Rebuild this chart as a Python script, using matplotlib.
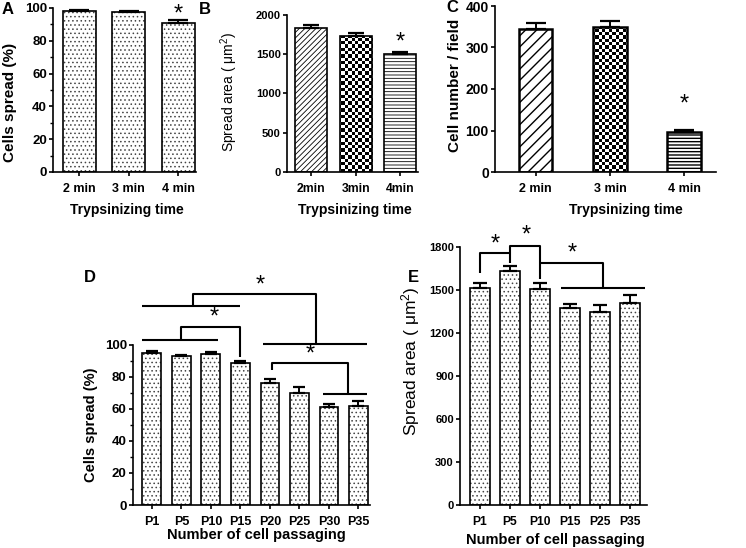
import numpy as np
import matplotlib
matplotlib.use('Agg')
import matplotlib.pyplot as plt

plt.rcParams['font.family'] = ['Liberation Sans', 'DejaVu Sans']
plt.rcParams['font.weight'] = 'bold'
plt.rcParams['axes.labelweight'] = 'bold'
plt.rcParams['hatch.color'] = 'black'

# Panels A-C: trypsinizing time
time_labels = ['2 min', '3 min', '4 min']
time_labels_b = ['2min', '3min', '4min']
spread_pct_time = [98.0, 97.5, 91.0]
spread_pct_time_err = [1.0, 0.8, 1.6]
spread_area_time = [1840, 1735, 1500]
spread_area_time_err = [35, 35, 28]
cell_number_time = [345, 350, 97]
cell_number_time_err = [14, 13, 5]

# Panel D: cells spread vs passage
passage_labels_d = ['P1', 'P5', 'P10', 'P15', 'P20', 'P25', 'P30', 'P35']
spread_pct_passage = [94.8, 93.0, 94.0, 88.4, 76.3, 69.7, 61.3, 62.0]
spread_pct_passage_err = [1.5, 0.4, 1.6, 1.6, 2.1, 4.1, 1.7, 2.7]

# Panel E: spread area vs passage
passage_labels_e = ['P1', 'P5', 'P10', 'P15', 'P25', 'P35']
spread_area_passage = [1515, 1634, 1508, 1373, 1350, 1413]
spread_area_passage_err = [33, 33, 40, 31, 47, 56]

# significance brackets (x in category units, y in data units)
brackets_d = [
    ([-0.35, 2.25], [103, 103]),
    ([0.98, 0.98, 2.98, 2.98], [103, 111.2, 111.2, 92.5]),
    ([-0.35, 2.98], [124, 124]),
    ([1.4, 1.4, 5.56, 5.56], [124, 131.8, 131.8, 100.4]),
    ([3.77, 7.28], [100.4, 100.4]),
    ([4.06, 4.06, 6.65, 6.65], [84, 88.8, 88.8, 69.2]),
    ([5.81, 7.28], [69.2, 69.2]),
]
stars_d = [(2.1, 117), (3.66, 136.6), (5.36, 93.6)]

brackets_e = [
    ([0, 0, 1, 1], [1617, 1762, 1762, 1688]),
    ([1, 1, 2, 2], [1762, 1811, 1811, 1576]),
    ([2, 4.09, 4.09], [1688, 1688, 1518]),
    ([2.7, 5.5], [1518, 1518]),
]
stars_e = [(0.5, 1822), (1.53, 1881), (3.08, 1753)]

W, H = 746, 548
fig = plt.figure(figsize=(W / 100, H / 100), dpi=100)


def px_axes(left, top, right, bottom):
    return fig.add_axes([left / W, 1 - bottom / H, (right - left) / W, (bottom - top) / H])


def style(ax, ysize, xsize, minor=None):
    for s in ['top', 'right']:
        ax.spines[s].set_visible(False)
    for s in ['left', 'bottom']:
        ax.spines[s].set_linewidth(1.2)
    ax.tick_params(axis='y', direction='out', width=1.2, length=3, pad=1.5, labelsize=ysize)
    ax.tick_params(axis='x', direction='out', width=1.2, length=3, pad=5, labelsize=xsize)
    if minor:
        ax.yaxis.set_minor_locator(matplotlib.ticker.MultipleLocator(minor))
        ax.tick_params(axis='y', which='minor', direction='out', width=1.0, length=2)


def add_checker(ax, bar, cell=3.3):
    x0, x1 = ax.get_xlim()
    y0, y1 = ax.get_ylim()
    bb = ax.get_position()
    nx = int(bb.width * W / cell)
    ny = int(bb.height * H / cell)
    grid = np.indices((ny, nx)).sum(axis=0) % 2
    im = ax.imshow(grid, cmap='gray', extent=(x0, x1, y0, y1), origin='lower',
                   aspect='auto', interpolation='nearest', zorder=2.5)
    im.set_clip_path(bar)
    ax.set_xlim(x0, x1)
    ax.set_ylim(y0, y1)


def draw_bars(ax, values, errors, patterns, width, edge_lw, capsize, hatch_lw, hatch_color='black'):
    x = np.arange(len(values))
    with plt.rc_context({'hatch.linewidth': hatch_lw}):
        bars = ax.bar(x, values, width, color='white', edgecolor=hatch_color, linewidth=0, zorder=2)
        for b, p in zip(bars, patterns):
            if p == 'checker':
                add_checker(ax, b)
            else:
                b.set_hatch(p)
                if hasattr(b, 'set_hatch_linewidth'):
                    b.set_hatch_linewidth(hatch_lw)
    ax.bar(x, values, width, fill=False, edgecolor='black', linewidth=edge_lw, zorder=2.7)
    ax.errorbar(x, values, yerr=[np.zeros(len(values)), errors], fmt='none', ecolor='black',
                elinewidth=1.4, capsize=capsize, capthick=1.6, zorder=2.6)
    return x


def star_above(ax, x, y, offset, size=17):
    ax.annotate('*', (x, y), xytext=(0, offset), textcoords='offset points',
                ha='center', va='center', fontsize=size, fontweight='normal',
                annotation_clip=False)


# ---- Panel A ----
axA = px_axes(53, 8, 196, 172)
axA.set_xlim(-0.53, 2.36)
axA.set_ylim(0, 100)
x = draw_bars(axA, spread_pct_time, spread_pct_time_err, ['....'] * 3, 0.67, 1.2, 7, 0.6, '#444444')
axA.set_xticks(x, time_labels)
axA.set_yticks([0, 20, 40, 60, 80, 100])
style(axA, 9.5, 9, minor=10)
axA.set_ylabel('Cells spread (%)', fontsize=11)
axA.yaxis.set_label_coords(-0.252, 0.424)
axA.set_xlabel('Trypsinizing time', fontsize=10)
axA.xaxis.set_label_coords(0.517, -0.189)
star_above(axA, 2, spread_pct_time[2] + spread_pct_time_err[2], 4)

# ---- Panel B ----
axB = px_axes(287, 15, 418, 172)
axB.set_xlim(-0.54, 2.4)
axB.set_ylim(0, 2000)
x = draw_bars(axB, spread_area_time, spread_area_time_err, ['//////', 'checker', '-----'], 0.72, 1.2, 6, 0.6)
axB.set_xticks(x, time_labels_b)
axB.set_yticks([0, 500, 1000, 1500, 2000])
style(axB, 8, 8.7)
axB.set_ylabel('Spread area ( $\\mathregular{\\mu m^2}$)', fontsize=10, fontweight='normal')
axB.yaxis.set_label_coords(-0.359, 0.51)
axB.set_xlabel('Trypsinizing time', fontsize=10)
axB.xaxis.set_label_coords(0.52, -0.197)
star_above(axB, 2, spread_area_time[2] + spread_area_time_err[2], 7)

# ---- Panel C ----
axC = px_axes(495, 6, 716, 172)
axC.set_xlim(-0.55, 2.43)
axC.set_ylim(0, 400)
x = draw_bars(axC, cell_number_time, cell_number_time_err, ['///', 'checker', '-----'], 0.45, 1.8, 7.5, 1.0)
axC.set_xticks(x, time_labels)
axC.set_yticks([0, 100, 200, 300, 400])
style(axC, 10, 9)
axC.set_ylabel('Cell number / field', fontsize=11)
axC.yaxis.set_label_coords(-0.149, 0.52)
axC.set_xlabel('Trypsinizing time', fontsize=10)
axC.xaxis.set_label_coords(0.593, -0.187)
star_above(axC, 2, cell_number_time[2] + cell_number_time_err[2], 18)

# ---- Panel D ----
axD = px_axes(133, 344.7, 370, 505)
axD.set_xlim(-0.64, 7.39)
axD.set_ylim(0, 100)
x = draw_bars(axD, spread_pct_passage, spread_pct_passage_err, ['....'] * 8, 0.64, 1.2, 4.5, 0.6, '#444444')
axD.set_xticks(x, passage_labels_d)
axD.set_yticks([0, 20, 40, 60, 80, 100])
style(axD, 9.5, 9, minor=10)
axD.set_ylabel('Cells spread (%)', fontsize=10.5)
axD.yaxis.set_label_coords(-0.148, 0.499)
axD.set_xlabel('Number of cell passaging', fontsize=10.5)
axD.xaxis.set_label_coords(0.519, -0.143)
for xs, ys in brackets_d:
    axD.plot(xs, ys, color='black', lw=1.5, clip_on=False, solid_capstyle='butt', zorder=4)
for sx, sy in stars_d:
    axD.text(sx, sy, '*', ha='center', va='center', fontsize=17, fontweight='normal', clip_on=False)

# ---- Panel E ----
axE = px_axes(460, 247.3, 647, 505)
axE.set_xlim(-0.67, 5.57)
axE.set_ylim(0, 1800)
x = draw_bars(axE, spread_area_passage, spread_area_passage_err, ['....'] * 6, 0.68, 1.2, 4.7, 0.6, '#444444')
axE.set_xticks(x, passage_labels_e)
axE.set_yticks([0, 300, 600, 900, 1200, 1500, 1800])
style(axE, 8, 8.7)
axE.set_ylabel('Spread area ( $\\mathregular{\\mu m^2}$)', fontsize=12.5, fontweight='normal')
axE.yaxis.set_label_coords(-0.203, 0.557)
axE.set_xlabel('Number of cell passaging', fontsize=10.5)
axE.xaxis.set_label_coords(0.508, -0.109)
for xs, ys in brackets_e:
    axE.plot(xs, ys, color='black', lw=1.5, clip_on=False, solid_capstyle='butt', zorder=4)
for sx, sy in stars_e:
    axE.text(sx, sy, '*', ha='center', va='center', fontsize=17, fontweight='normal', clip_on=False)

# panel letters
for letter, px, py in [('A', 8, 9), ('B', 205, 9), ('C', 452, 7), ('D', 90, 277), ('E', 413, 278)]:
    fig.text(px / W, 1 - py / H, letter, ha='center', va='center', fontsize=12, fontweight='bold')

fig.savefig('out.png', dpi=100)
